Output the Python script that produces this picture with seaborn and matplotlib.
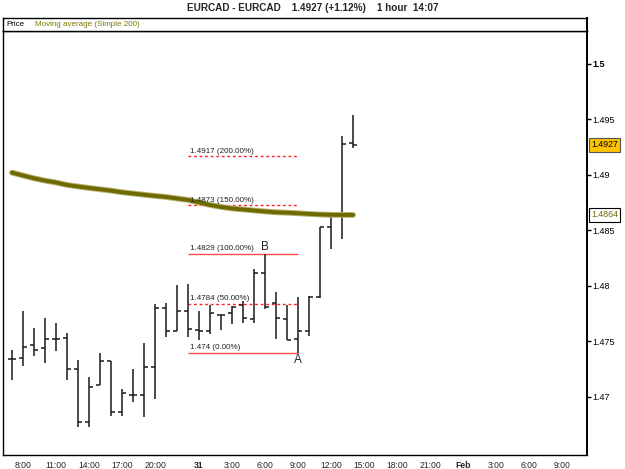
import matplotlib
matplotlib.use("Agg")
import matplotlib.pyplot as plt
import seaborn as sns
import numpy as np
import pandas as pd

# ---------------- data ----------------
bar_hours = list(range(32))  # hourly bars, 0 = 30 Jan 7:00
opens  = [1.4734, 1.4735, 1.4747, 1.4744, 1.4752, 1.4753, 1.4725, 1.4677, 1.4711, 1.4732,
          1.4686, 1.4702, 1.4702, 1.4727, 1.4780, 1.4759, 1.4777, 1.4760, 1.4759, 1.4774,
          1.4776, 1.4783, 1.4770, 1.4812, 1.4785, 1.4770, 1.4752, 1.4759, 1.4790, 1.4853,
          1.4865, 1.4929]
highs  = [1.4742, 1.4777, 1.4762, 1.4771, 1.4767, 1.4758, 1.4733, 1.4718, 1.4740, 1.4732,
          1.4707, 1.4725, 1.4749, 1.4784, 1.4785, 1.4801, 1.4802, 1.4777, 1.4783, 1.4774,
          1.4782, 1.4786, 1.4815, 1.4829, 1.4795, 1.4783, 1.4790, 1.4791, 1.4853, 1.4866,
          1.4935, 1.4954]
lows   = [1.4715, 1.4728, 1.4737, 1.4731, 1.4741, 1.4715, 1.4673, 1.4673, 1.4711, 1.4683,
          1.4683, 1.4695, 1.4682, 1.4698, 1.4754, 1.4759, 1.4754, 1.4751, 1.4757, 1.4760,
          1.4766, 1.4767, 1.4767, 1.4779, 1.4752, 1.4751, 1.4740, 1.4755, 1.4789, 1.4833,
          1.4842, 1.4924]
closes = [1.4734, 1.4745, 1.4742, 1.4752, 1.4752, 1.4725, 1.4677, 1.4709, 1.4732, 1.4686,
          1.4704, 1.4702, 1.4727, 1.4780, 1.4759, 1.4777, 1.4761, 1.4759, 1.4776, 1.4774,
          1.4781, 1.4771, 1.4812, 1.4781, 1.4771, 1.4751, 1.4759, 1.4790, 1.4853, 1.4865,
          1.4928, 1.4927]
ma200  = [1.49021, 1.48995, 1.48970, 1.48949, 1.48932, 1.48910, 1.48896, 1.48883, 1.48871,
          1.48859, 1.48844, 1.48833, 1.48822, 1.48811, 1.48802, 1.48788, 1.48775, 1.48752,
          1.48730, 1.48712, 1.48698, 1.48689, 1.48680, 1.48671, 1.48664, 1.48660, 1.48655,
          1.48649, 1.48644, 1.48641, 1.48640, 1.48640]

fib_levels = [1.4740, 1.4784, 1.4829, 1.4873, 1.4917]
fib_labels = ["1.474 (0.00%)", "1.4784 (50.00%)", "1.4829 (100.00%)",
              "1.4873 (150.00%)", "1.4917 (200.00%)"]
fib_solid = [True, False, True, False, False]
fib_start, fib_end = 16, 26
point_a = (26, 1.4740)
point_b = (23, 1.4829)

xtick_pos = [1, 4, 7, 10, 13, 17, 20, 23, 26, 29, 32, 35, 38, 41, 44, 47, 50]
xtick_lab = ["8:00", "11:00", "14:00", "17:00", "20:00", "31", "3:00", "6:00", "9:00",
             "12:00", "15:00", "18:00", "21:00", "Feb", "3:00", "6:00", "9:00"]
ytick_pos = [1.47, 1.475, 1.48, 1.485, 1.49, 1.495, 1.5]
ytick_lab = ["1.47", "1.475", "1.48", "1.485", "1.49", "1.495", "1.5"]

last_price = 1.4927
last_ma = 1.4864
title = "EURCAD - EURCAD    1.4927 (+1.12%)    1 hour  14:07"

# ---------------- style ----------------
sns.set_style("white")
plt.rcParams["font.family"] = ["Liberation Sans", "DejaVu Sans"]

W, H = 625, 469
fig = plt.figure(figsize=(W / 100, H / 100), dpi=100)
ax = fig.add_axes([3 / W, (H - 455) / H, 584 / W, (455 - 31) / H])
hdr = fig.add_axes([3 / W, (H - 31) / H, 584 / W, 13 / H])

df = pd.DataFrame({"hour": bar_hours, "open": opens, "high": highs,
                   "low": lows, "close": closes, "ma": ma200})

# OHLC bars
bar_col = "#1a1a1a"
ax.vlines(df["hour"], df["low"], df["high"], color=bar_col, lw=1.1)
ax.hlines(df["open"], df["hour"] - 0.35, df["hour"], color=bar_col, lw=1.1)
ax.hlines(df["close"], df["hour"], df["hour"] + 0.35, color=bar_col, lw=1.1)

# moving average
sns.lineplot(data=df, x="hour", y="ma", ax=ax, color="#b8b478", lw=4.2, legend=False)
sns.lineplot(data=df, x="hour", y="ma", ax=ax, color="#6e6a00", lw=2.8, legend=False)

# fibonacci levels
for lvl, lab, solid in zip(fib_levels, fib_labels, fib_solid):
    if solid:
        ax.hlines(lvl, fib_start, fib_end, color="#ff4a4a", lw=1.0, zorder=1)
    else:
        ax.hlines(lvl, fib_start, fib_end, color="#ff2020", lw=1.0,
                  linestyles=(0, (2, 2)), zorder=1)
    ax.text(fib_start + 0.2, lvl + 0.00012, lab, fontsize=5.8, color="#222222",
            ha="left", va="bottom", zorder=3)

ax.text(point_b[0], point_b[1] + 0.0001, "B", fontsize=8.5, ha="center", va="bottom")
ax.text(point_a[0], point_a[1] - 0.0001, "A", fontsize=8.5, ha="center", va="top")

# axes
ax.set_xlim(-0.82, 52.27)
ax.set_ylim(1.46477, 1.50297)
ax.set_xlabel("")
ax.set_ylabel("")
ax.yaxis.tick_right()
ax.set_yticks(ytick_pos)
ax.set_yticklabels(ytick_lab)
ax.set_xticks(xtick_pos)
ax.set_xticklabels(xtick_lab)
ax.tick_params(axis="y", direction="out", length=3, width=1, pad=1, labelsize=6.5,
               right=True, left=False, colors="black")
ax.tick_params(axis="x", length=0, pad=4, labelsize=6.2)
for t in ax.get_yticklabels():
    if t.get_text() == "1.5":
        t.set_fontweight("bold")
for t in ax.get_xticklabels():
    if t.get_text() in ("31", "Feb"):
        t.set_fontweight("bold")
for s in ax.spines.values():
    s.set_visible(True)
    s.set_color("black")
    s.set_linewidth(1.0)
ax.spines["right"].set_linewidth(1.4)

# price boxes
ax.text(1.0065, last_price, f"{last_price:.4f}", transform=ax.get_yaxis_transform(),
        fontsize=6.3, color="black", ha="left", va="center",
        bbox=dict(boxstyle="square,pad=0.25", fc="#ffc400", ec="#555555", lw=0.8))
ax.text(1.0065, last_ma, f"{last_ma:.4f}", transform=ax.get_yaxis_transform(),
        fontsize=6.3, color="#6e6a00", ha="left", va="center",
        bbox=dict(boxstyle="square,pad=0.25", fc="white", ec="black", lw=0.8))

# header strip
hdr.set_xticks([])
hdr.set_yticks([])
for s in hdr.spines.values():
    s.set_visible(True)
    s.set_color("black")
    s.set_linewidth(1.0)
hdr.spines["right"].set_linewidth(1.4)
hdr.text(3 / 584, 0.5, "Price", fontsize=5.8, color="black", va="center", ha="left",
         transform=hdr.transAxes)
hdr.text(32 / 584, 0.5, "Moving average (Simple 200)", fontsize=5.8, color="#7a7600",
         va="center", ha="left", transform=hdr.transAxes)

fig.text(0.5, 1 - 8 / H, title, fontsize=7.2, fontweight="bold", ha="center", va="center")

fig.savefig("out.png", dpi=100)
